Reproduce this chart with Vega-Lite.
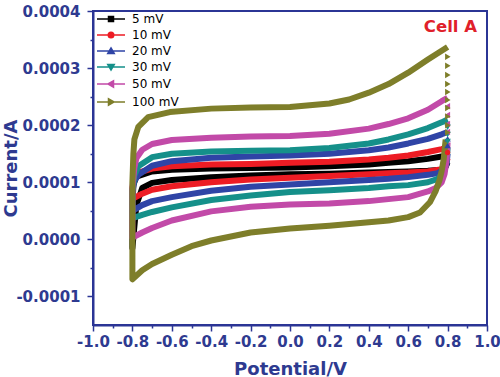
{
  "$schema": "https://vega.github.io/schema/vega-lite/v6.json",
  "autosize": {"type": "none"},
  "padding": {"left": 93, "top": 11, "right": 13, "bottom": 52},
  "width": 394,
  "height": 314,
  "background": "white",
  "title": {"text": "Cell A", "anchor": "end", "orient": "top", "frame": "group", "offset": 0, "dx": -10, "dy": 44, "baseline": "alphabetic", "font": "DejaVu Sans", "fontWeight": "bold", "fontSize": 16.5, "color": "#e0202a"},
  "config": {
    "view": {"stroke": "#2b3595", "strokeWidth": 2},
    "axis": {
      "grid": false,
      "domainColor": "#2b3595",
      "domainWidth": 2,
      "tickColor": "#2b3595",
      "tickWidth": 1.5,
      "labelColor": "#2e3a90",
      "labelFont": "DejaVu Sans",
      "labelFontWeight": "bold",
      "labelFontSize": 15,
      "labelOverlap": false,
      "labelBound": false,
      "labelFlush": false,
      "titleColor": "#2e3a90",
      "titleFont": "DejaVu Sans",
      "titleFontWeight": "bold",
      "titleFontSize": 18
    },
    "legend": {
      "title": null, "orient": "none", "legendX": 12, "legendY": 2, "padding": 0,
      "symbolSize": 100, "labelOffset": 15, "rowPadding": 4,
      "labelFont": "DejaVu Sans", "labelFontSize": 12, "labelColor": "#000000"
    }
  },
  "datasets": {
    "lines": [
      {"s":"5 mV","i":0,"x":0.8,"y":0.000135},{"s":"5 mV","i":1,"x":0.79,"y":0.000127},{"s":"5 mV","i":2,"x":0.77,"y":0.000122},{"s":"5 mV","i":3,"x":0.7,"y":0.00012},{"s":"5 mV","i":4,"x":0.6,"y":0.000119},{"s":"5 mV","i":5,"x":0.5,"y":0.000118},{"s":"5 mV","i":6,"x":0.4,"y":0.000117},{"s":"5 mV","i":7,"x":0.2,"y":0.000115},{"s":"5 mV","i":8,"x":0,"y":0.000114},{"s":"5 mV","i":9,"x":-0.2,"y":0.000112},{"s":"5 mV","i":10,"x":-0.4,"y":0.000109},{"s":"5 mV","i":11,"x":-0.6,"y":0.000104},{"s":"5 mV","i":12,"x":-0.7,"y":0.000099},{"s":"5 mV","i":13,"x":-0.75,"y":0.00009},{"s":"5 mV","i":14,"x":-0.78,"y":0.00006},{"s":"5 mV","i":15,"x":-0.8,"y":-0.000015},{"s":"5 mV","i":16,"x":-0.8,"y":0.00006},{"s":"5 mV","i":17,"x":-0.795,"y":0.000095},{"s":"5 mV","i":18,"x":-0.78,"y":0.00011},{"s":"5 mV","i":19,"x":-0.7,"y":0.000119},{"s":"5 mV","i":20,"x":-0.6,"y":0.000122},{"s":"5 mV","i":21,"x":-0.4,"y":0.000124},{"s":"5 mV","i":22,"x":-0.2,"y":0.000125},{"s":"5 mV","i":23,"x":0,"y":0.000126},{"s":"5 mV","i":24,"x":0.2,"y":0.000128},{"s":"5 mV","i":25,"x":0.4,"y":0.000131},{"s":"5 mV","i":26,"x":0.5,"y":0.000134},{"s":"5 mV","i":27,"x":0.6,"y":0.000137},{"s":"5 mV","i":28,"x":0.7,"y":0.000141},{"s":"5 mV","i":29,"x":0.77,"y":0.000145},{"s":"5 mV","i":30,"x":0.8,"y":0.000147},
      {"s":"10 mV","i":0,"x":0.8,"y":0.000142},{"s":"10 mV","i":1,"x":0.79,"y":0.00013},{"s":"10 mV","i":2,"x":0.77,"y":0.000123},{"s":"10 mV","i":3,"x":0.7,"y":0.000119},{"s":"10 mV","i":4,"x":0.6,"y":0.000117},{"s":"10 mV","i":5,"x":0.5,"y":0.000116},{"s":"10 mV","i":6,"x":0.4,"y":0.000114},{"s":"10 mV","i":7,"x":0.2,"y":0.000111},{"s":"10 mV","i":8,"x":0,"y":0.000108},{"s":"10 mV","i":9,"x":-0.2,"y":0.000105},{"s":"10 mV","i":10,"x":-0.4,"y":0.0001},{"s":"10 mV","i":11,"x":-0.6,"y":0.000093},{"s":"10 mV","i":12,"x":-0.7,"y":0.000087},{"s":"10 mV","i":13,"x":-0.75,"y":0.00008},{"s":"10 mV","i":14,"x":-0.8,"y":0.000071},{"s":"10 mV","i":15,"x":-0.8,"y":0.00009},{"s":"10 mV","i":16,"x":-0.79,"y":0.000108},{"s":"10 mV","i":17,"x":-0.77,"y":0.000117},{"s":"10 mV","i":18,"x":-0.7,"y":0.000124},{"s":"10 mV","i":19,"x":-0.6,"y":0.000128},{"s":"10 mV","i":20,"x":-0.4,"y":0.000131},{"s":"10 mV","i":21,"x":-0.2,"y":0.000132},{"s":"10 mV","i":22,"x":0,"y":0.000134},{"s":"10 mV","i":23,"x":0.2,"y":0.000136},{"s":"10 mV","i":24,"x":0.4,"y":0.00014},{"s":"10 mV","i":25,"x":0.5,"y":0.000143},{"s":"10 mV","i":26,"x":0.6,"y":0.000147},{"s":"10 mV","i":27,"x":0.7,"y":0.000153},{"s":"10 mV","i":28,"x":0.77,"y":0.000158},{"s":"10 mV","i":29,"x":0.8,"y":0.000161},
      {"s":"20 mV","i":0,"x":0.8,"y":0.00015},{"s":"20 mV","i":1,"x":0.795,"y":0.000132},{"s":"20 mV","i":2,"x":0.78,"y":0.000122},{"s":"20 mV","i":3,"x":0.75,"y":0.000116},{"s":"20 mV","i":4,"x":0.7,"y":0.000113},{"s":"20 mV","i":5,"x":0.6,"y":0.000109},{"s":"20 mV","i":6,"x":0.5,"y":0.000106},{"s":"20 mV","i":7,"x":0.4,"y":0.000104},{"s":"20 mV","i":8,"x":0.2,"y":0.0001},{"s":"20 mV","i":9,"x":0,"y":0.000096},{"s":"20 mV","i":10,"x":-0.2,"y":0.000092},{"s":"20 mV","i":11,"x":-0.4,"y":0.000085},{"s":"20 mV","i":12,"x":-0.6,"y":0.000074},{"s":"20 mV","i":13,"x":-0.7,"y":0.000067},{"s":"20 mV","i":14,"x":-0.75,"y":0.00006},{"s":"20 mV","i":15,"x":-0.8,"y":0.00005},{"s":"20 mV","i":16,"x":-0.8,"y":0.000085},{"s":"20 mV","i":17,"x":-0.79,"y":0.000102},{"s":"20 mV","i":18,"x":-0.77,"y":0.000113},{"s":"20 mV","i":19,"x":-0.7,"y":0.000129},{"s":"20 mV","i":20,"x":-0.6,"y":0.000137},{"s":"20 mV","i":21,"x":-0.4,"y":0.000143},{"s":"20 mV","i":22,"x":-0.2,"y":0.000145},{"s":"20 mV","i":23,"x":0,"y":0.000147},{"s":"20 mV","i":24,"x":0.2,"y":0.00015},{"s":"20 mV","i":25,"x":0.4,"y":0.000156},{"s":"20 mV","i":26,"x":0.5,"y":0.000161},{"s":"20 mV","i":27,"x":0.6,"y":0.000168},{"s":"20 mV","i":28,"x":0.7,"y":0.000176},{"s":"20 mV","i":29,"x":0.77,"y":0.000184},{"s":"20 mV","i":30,"x":0.8,"y":0.000188},
      {"s":"30 mV","i":0,"x":0.8,"y":0.00016},{"s":"30 mV","i":1,"x":0.795,"y":0.000138},{"s":"30 mV","i":2,"x":0.78,"y":0.000118},{"s":"30 mV","i":3,"x":0.75,"y":0.000106},{"s":"30 mV","i":4,"x":0.7,"y":0.0001},{"s":"30 mV","i":5,"x":0.6,"y":0.000095},{"s":"30 mV","i":6,"x":0.5,"y":0.000093},{"s":"30 mV","i":7,"x":0.4,"y":0.00009},{"s":"30 mV","i":8,"x":0.2,"y":0.000086},{"s":"30 mV","i":9,"x":0,"y":0.000083},{"s":"30 mV","i":10,"x":-0.2,"y":0.000077},{"s":"30 mV","i":11,"x":-0.4,"y":0.000069},{"s":"30 mV","i":12,"x":-0.6,"y":0.000056},{"s":"30 mV","i":13,"x":-0.7,"y":0.000048},{"s":"30 mV","i":14,"x":-0.75,"y":0.000043},{"s":"30 mV","i":15,"x":-0.8,"y":0.000037},{"s":"30 mV","i":16,"x":-0.8,"y":0.000085},{"s":"30 mV","i":17,"x":-0.79,"y":0.000112},{"s":"30 mV","i":18,"x":-0.77,"y":0.000128},{"s":"30 mV","i":19,"x":-0.7,"y":0.000144},{"s":"30 mV","i":20,"x":-0.6,"y":0.00015},{"s":"30 mV","i":21,"x":-0.4,"y":0.000154},{"s":"30 mV","i":22,"x":-0.2,"y":0.000155},{"s":"30 mV","i":23,"x":0,"y":0.000156},{"s":"30 mV","i":24,"x":0.2,"y":0.00016},{"s":"30 mV","i":25,"x":0.4,"y":0.000168},{"s":"30 mV","i":26,"x":0.5,"y":0.000175},{"s":"30 mV","i":27,"x":0.6,"y":0.000184},{"s":"30 mV","i":28,"x":0.7,"y":0.000195},{"s":"30 mV","i":29,"x":0.77,"y":0.000205},{"s":"30 mV","i":30,"x":0.8,"y":0.00021},
      {"s":"50 mV","i":0,"x":0.8,"y":0.00017},{"s":"50 mV","i":1,"x":0.795,"y":0.00014},{"s":"50 mV","i":2,"x":0.785,"y":0.000115},{"s":"50 mV","i":3,"x":0.77,"y":0.0001},{"s":"50 mV","i":4,"x":0.74,"y":0.00009},{"s":"50 mV","i":5,"x":0.7,"y":0.000084},{"s":"50 mV","i":6,"x":0.6,"y":0.000074},{"s":"50 mV","i":7,"x":0.4,"y":0.000067},{"s":"50 mV","i":8,"x":0.2,"y":0.000063},{"s":"50 mV","i":9,"x":0,"y":0.000061},{"s":"50 mV","i":10,"x":-0.2,"y":0.000057},{"s":"50 mV","i":11,"x":-0.4,"y":0.000049},{"s":"50 mV","i":12,"x":-0.6,"y":0.000033},{"s":"50 mV","i":13,"x":-0.7,"y":0.00002},{"s":"50 mV","i":14,"x":-0.75,"y":0.000012},{"s":"50 mV","i":15,"x":-0.8,"y":0.000003},{"s":"50 mV","i":16,"x":-0.8,"y":0.00009},{"s":"50 mV","i":17,"x":-0.79,"y":0.000125},{"s":"50 mV","i":18,"x":-0.78,"y":0.000142},{"s":"50 mV","i":19,"x":-0.75,"y":0.000157},{"s":"50 mV","i":20,"x":-0.7,"y":0.000167},{"s":"50 mV","i":21,"x":-0.6,"y":0.000174},{"s":"50 mV","i":22,"x":-0.4,"y":0.000178},{"s":"50 mV","i":23,"x":-0.2,"y":0.00018},{"s":"50 mV","i":24,"x":0,"y":0.000181},{"s":"50 mV","i":25,"x":0.2,"y":0.000185},{"s":"50 mV","i":26,"x":0.4,"y":0.000194},{"s":"50 mV","i":27,"x":0.5,"y":0.000202},{"s":"50 mV","i":28,"x":0.6,"y":0.000212},{"s":"50 mV","i":29,"x":0.7,"y":0.000227},{"s":"50 mV","i":30,"x":0.77,"y":0.000242},{"s":"50 mV","i":31,"x":0.8,"y":0.000248},
      {"s":"100 mV","i":0,"x":0.79,"y":0.000175},{"s":"100 mV","i":1,"x":0.78,"y":0.00014},{"s":"100 mV","i":2,"x":0.77,"y":0.00012},{"s":"100 mV","i":3,"x":0.76,"y":0.000105},{"s":"100 mV","i":4,"x":0.74,"y":0.000085},{"s":"100 mV","i":5,"x":0.71,"y":0.000065},{"s":"100 mV","i":6,"x":0.66,"y":0.000047},{"s":"100 mV","i":7,"x":0.6,"y":0.000039},{"s":"100 mV","i":8,"x":0.5,"y":0.000033},{"s":"100 mV","i":9,"x":0.4,"y":0.00003},{"s":"100 mV","i":10,"x":0.3,"y":0.000027},{"s":"100 mV","i":11,"x":0.2,"y":0.000024},{"s":"100 mV","i":12,"x":0,"y":0.000019},{"s":"100 mV","i":13,"x":-0.2,"y":0.000012},{"s":"100 mV","i":14,"x":-0.4,"y":-0.000002},{"s":"100 mV","i":15,"x":-0.5,"y":-0.000012},{"s":"100 mV","i":16,"x":-0.6,"y":-0.000027},{"s":"100 mV","i":17,"x":-0.7,"y":-0.000043},{"s":"100 mV","i":18,"x":-0.75,"y":-0.000054},{"s":"100 mV","i":19,"x":-0.8,"y":-0.00007},{"s":"100 mV","i":20,"x":-0.8,"y":0.0001},{"s":"100 mV","i":21,"x":-0.795,"y":0.00015},{"s":"100 mV","i":22,"x":-0.79,"y":0.000175},{"s":"100 mV","i":23,"x":-0.77,"y":0.000197},{"s":"100 mV","i":24,"x":-0.72,"y":0.000214},{"s":"100 mV","i":25,"x":-0.61,"y":0.000223},{"s":"100 mV","i":26,"x":-0.4,"y":0.000229},{"s":"100 mV","i":27,"x":-0.2,"y":0.000231},{"s":"100 mV","i":28,"x":0,"y":0.000232},{"s":"100 mV","i":29,"x":0.2,"y":0.000238},{"s":"100 mV","i":30,"x":0.3,"y":0.000245},{"s":"100 mV","i":31,"x":0.4,"y":0.000257},{"s":"100 mV","i":32,"x":0.5,"y":0.000272},{"s":"100 mV","i":33,"x":0.6,"y":0.000292},{"s":"100 mV","i":34,"x":0.7,"y":0.000315},{"s":"100 mV","i":35,"x":0.75,"y":0.000326},{"s":"100 mV","i":36,"x":0.8,"y":0.000337}
    ],
    "pts": [
      {"s":"10 mV","x":0.8,"y":0.000152},
      {"s":"20 mV","x":0.8,"y":0.000176},{"s":"20 mV","x":0.8,"y":0.000164},
      {"s":"30 mV","x":0.8,"y":0.000197},{"s":"30 mV","x":0.8,"y":0.000184},{"s":"30 mV","x":0.8,"y":0.000172},
      {"s":"50 mV","x":0.8,"y":0.000233},{"s":"50 mV","x":0.8,"y":0.000218},{"s":"50 mV","x":0.8,"y":0.000202},{"s":"50 mV","x":0.8,"y":0.000188},
      {"s":"100 mV","x":0.8,"y":0.00032},{"s":"100 mV","x":0.8,"y":0.000304},{"s":"100 mV","x":0.8,"y":0.000288},{"s":"100 mV","x":0.8,"y":0.000272},{"s":"100 mV","x":0.8,"y":0.000258},{"s":"100 mV","x":0.8,"y":0.000244},{"s":"100 mV","x":0.8,"y":0.00023},{"s":"100 mV","x":0.8,"y":0.000215},{"s":"100 mV","x":0.8,"y":0.0002},{"s":"100 mV","x":0.8,"y":0.000187}
    ]
  },
  "encoding": {
    "x": {
      "field": "x", "type": "quantitative",
      "scale": {"domain": [-1, 1], "nice": false, "zero": false},
      "axis": {
        "title": "Potential/V",
        "values": [-1, -0.9, -0.8, -0.7, -0.6, -0.5, -0.4, -0.3, -0.2, -0.1, 0, 0.1, 0.2, 0.3, 0.4, 0.5, 0.6, 0.7, 0.8, 0.9, 1],
        "labelExpr": "abs(round(datum.value*10)) % 2 == 0 ? replace(format(datum.value, '.1f'), '\u2212', '-') : ''",
        "tickSize": {"condition": {"test": "abs(round(datum.value*10)) % 2 == 0", "value": 6}, "value": 3},
        "labelPadding": 3,
        "titlePadding": 11
      }
    },
    "y": {
      "field": "y", "type": "quantitative",
      "scale": {"domain": [-0.00015, 0.0004], "nice": false, "zero": false},
      "axis": {
        "title": "Current/A",
        "values": [-0.0001, -0.00005, 0, 0.00005, 0.0001, 0.00015, 0.0002, 0.00025, 0.0003, 0.00035, 0.0004],
        "labelExpr": "abs(round(datum.value*20000)) % 2 == 0 ? replace(format(datum.value, '.4f'), '\u2212', '-') : ''",
        "tickSize": {"condition": {"test": "abs(round(datum.value*20000)) % 2 == 0", "value": 6}, "value": 3},
        "labelPadding": 7,
        "titlePadding": -5
      }
    }
  },
  "layer": [
    {
      "data": {"name": "lines"},
      "mark": {"type": "line", "strokeWidth": 6, "strokeJoin": "round", "strokeCap": "butt"},
      "encoding": {
        "order": {"field": "i", "type": "quantitative"},
        "color": {
          "field": "s", "type": "nominal",
          "scale": {"domain": ["5 mV", "10 mV", "20 mV", "30 mV", "50 mV", "100 mV"], "range": ["#000000", "#ed1c24", "#2f44a6", "#15908a", "#c24aa8", "#7e7e2a"]}
        }
      }
    },
    {
      "data": {"name": "pts"},
      "mark": {"type": "point", "filled": true, "size": 100, "strokeWidth": 0, "opacity": 1},
      "encoding": {
        "color": {
          "field": "s", "type": "nominal",
          "scale": {"domain": ["5 mV", "10 mV", "20 mV", "30 mV", "50 mV", "100 mV"], "range": ["#000000", "#ed1c24", "#2f44a6", "#15908a", "#c24aa8", "#7e7e2a"]},
          "legend": {
            "encode": {"symbols": {"update": {"stroke": {"scale": "color", "field": "value"}, "strokeWidth": {"value": 0.8}, "fill": {"scale": "color", "field": "value"}, "opacity": {"value": 1}}}}
          }
        },
        "shape": {
          "field": "s", "type": "nominal",
          "scale": {"domain": ["5 mV", "10 mV", "20 mV", "30 mV", "50 mV", "100 mV"], "range": [
            "M-2.8,0H2.8M-0.5,-0.5H0.5V0.5H-0.5Z",
            "M-2.8,0H2.8M-0.55,0A0.55,0.55,0,1,1,0.55,0A0.55,0.55,0,1,1,-0.55,0Z",
            "M-2.8,0H2.8M0,-0.6L0.65,0.5L-0.65,0.5Z",
            "M-2.8,0H2.8M0,0.6L0.65,-0.5L-0.65,-0.5Z",
            "M-2.8,0H2.8M-0.6,0L0.5,-0.65L0.5,0.65Z",
            "M-2.8,0H2.8M0.6,0L-0.5,-0.65L-0.5,0.65Z"
          ]}
        }
      }
    }
  ]
}
